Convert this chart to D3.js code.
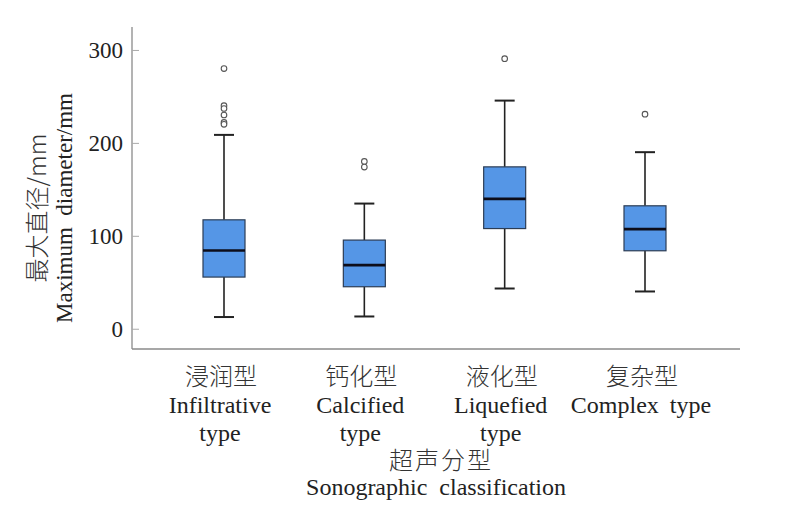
<!DOCTYPE html>
<html><head><meta charset="utf-8">
<script src="https://cdn.jsdelivr.net/npm/d3@7/dist/d3.min.js"></script>
<style>
body{margin:0;background:#fff;}
text{font-family:"Liberation Serif","Times New Roman","Noto Sans CJK SC",serif;fill:#222;}
.zh{font-family:"Noto Sans CJK SC","Liberation Serif",serif;font-weight:300;fill:#333;}
</style></head>
<body><svg id="c" width="801" height="510"></svg>
<script>
const categoriesZh = ["浸润型","钙化型","液化型","复杂型"];
const categoriesEn = [["Infiltrative","type"],["Calcified","type"],["Liquefied","type"],["Complex type"]];
const whiskerLow  = [12.6, 13.2, 43.3, 40.1];
const q1Values    = [55.6, 45.2, 107.8, 83.9];
const medians     = [84.2, 68.5, 139.8, 107.2];
const q3Values    = [117.2, 95.4, 174.2, 132.3];
const whiskerHigh = [208.6, 134.7, 245.5, 190.0];
const outliers    = [[280, 240, 237, 230, 222, 220], [180, 174], [290.6], [230.9]];
const yTicks = [0, 100, 200, 300];
const yTitleZh = "最大直径/mm";
const yTitleEn = "Maximum  diameter/mm";
const xTitleZh = "超声分型";
const xTitleEn = "Sonographic  classification";

const svg = d3.select("#c");
const axisLeftX = 132, axisBottomY = 349, axisTopY = 27, axisRightX = 740;
const y = d3.scaleLinear().domain([-21.8, 324.7]).range([axisBottomY, axisTopY]);
const x = d3.scalePoint().domain(categoriesZh).range([224, 645]);

// axes
svg.append("line").attr("x1",axisLeftX).attr("x2",axisLeftX).attr("y1",axisTopY).attr("y2",axisBottomY)
  .attr("stroke","#8a8a8a").attr("stroke-width",1.3);
svg.append("line").attr("x1",axisLeftX).attr("x2",axisRightX).attr("y1",axisBottomY).attr("y2",axisBottomY)
  .attr("stroke","#8a8a8a").attr("stroke-width",1.3);

const yAxis = d3.axisRight(y).tickValues(yTicks).tickSize(7).tickFormat("");
const gy = svg.append("g").attr("transform",`translate(${axisLeftX},0)`).call(yAxis);
gy.select(".domain").remove();
gy.selectAll(".tick line").attr("stroke","#aaa").attr("stroke-width",1);
svg.append("g").selectAll("text").data(yTicks).join("text")
  .attr("x", axisLeftX-9).attr("y", d=>y(d)).attr("dy","0.34em")
  .attr("text-anchor","end").style("font-size","23px").text(d=>d);

// boxes
const data = categoriesZh.map((c,i)=>({c, lo:whiskerLow[i], q1:q1Values[i], med:medians[i], q3:q3Values[i], hi:whiskerHigh[i], out:outliers[i]}));
const boxW = 42, capW = 20;
const g = svg.append("g");
const b = g.selectAll("g.box").data(data).join("g").attr("class","box");
b.append("line").attr("x1",d=>x(d.c)).attr("x2",d=>x(d.c)).attr("y1",d=>y(d.hi)).attr("y2",d=>y(d.q3))
  .attr("stroke","#222").attr("stroke-width",1.6);
b.append("line").attr("x1",d=>x(d.c)).attr("x2",d=>x(d.c)).attr("y1",d=>y(d.q1)).attr("y2",d=>y(d.lo))
  .attr("stroke","#222").attr("stroke-width",1.6);
b.append("line").attr("x1",d=>x(d.c)-capW/2).attr("x2",d=>x(d.c)+capW/2).attr("y1",d=>y(d.hi)).attr("y2",d=>y(d.hi))
  .attr("stroke","#222").attr("stroke-width",2);
b.append("line").attr("x1",d=>x(d.c)-capW/2).attr("x2",d=>x(d.c)+capW/2).attr("y1",d=>y(d.lo)).attr("y2",d=>y(d.lo))
  .attr("stroke","#222").attr("stroke-width",2);
b.append("rect").attr("x",d=>x(d.c)-boxW/2).attr("width",boxW)
  .attr("y",d=>y(d.q3)).attr("height",d=>y(d.q1)-y(d.q3))
  .attr("fill","#5596e6").attr("stroke","#2c3d55").attr("stroke-width",1.2);
b.append("line").attr("x1",d=>x(d.c)-boxW/2).attr("x2",d=>x(d.c)+boxW/2).attr("y1",d=>y(d.med)).attr("y2",d=>y(d.med))
  .attr("stroke","#0d0d1a").attr("stroke-width",2.6);
b.selectAll("circle").data(d=>d.out.map(v=>({c:d.c,v}))).join("circle")
  .attr("cx",d=>x(d.c)).attr("cy",d=>y(d.v)).attr("r",2.8)
  .attr("fill","#fff").attr("stroke","#555").attr("stroke-width",1.1);

// x labels
const lab = svg.append("g").selectAll("g").data(categoriesZh).join("g");
lab.append("text").attr("class","zh").attr("x",d=>x(d)-3).attr("y",385).attr("text-anchor","middle")
  .style("font-size","24px").text(d=>d);
lab.each(function(d,i){
  const sel = d3.select(this);
  categoriesEn[i].forEach((t,j)=>{
    sel.append("text").attr("x",x(d)-4).attr("y",413+j*28).attr("text-anchor","middle")
      .style("font-size","24px").style("word-spacing","5px").text(t);
  });
});
svg.append("text").attr("class","zh").attr("x",441).attr("y",469).attr("text-anchor","middle")
  .style("font-size","24px").style("letter-spacing","2px").text(xTitleZh);
svg.append("text").attr("x",436).attr("y",495).attr("text-anchor","middle")
  .style("font-size","24px").style("white-space","pre").text(xTitleEn);

// y titles
svg.append("text").attr("class","zh").attr("transform","translate(46,208) rotate(-90)")
  .attr("text-anchor","middle").style("font-size","24px").text(yTitleZh);
svg.append("text").attr("transform","translate(72,208) rotate(-90)")
  .attr("text-anchor","middle").style("font-size","23px").style("white-space","pre").text(yTitleEn);
</script></body></html>
